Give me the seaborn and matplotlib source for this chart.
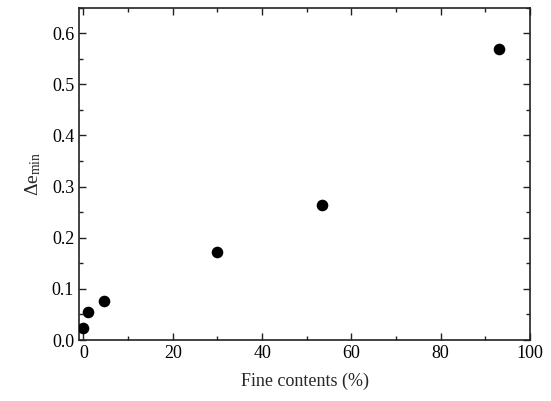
import matplotlib
matplotlib.use("Agg")
import matplotlib.pyplot as plt
import seaborn as sns
import pandas as pd
from matplotlib.ticker import MultipleLocator

fine_contents = [0.0, 1.0, 4.5, 30.0, 53.5, 93.0]
delta_emin = [0.023, 0.055, 0.076, 0.172, 0.265, 0.570]

sns.set_theme(style="ticks")
plt.rcParams['font.family'] = ['Liberation Serif', 'DejaVu Serif']
plt.rcParams['mathtext.fontset'] = 'custom'
plt.rcParams['mathtext.rm'] = 'Liberation Serif'
plt.rcParams['mathtext.it'] = 'Liberation Serif'

df = pd.DataFrame({"x": fine_contents, "y": delta_emin})

fig = plt.figure(figsize=(5.51, 4.01), dpi=100)
ax = fig.add_axes([0.1434, 0.152, 0.8186, 0.829])
sns.scatterplot(data=df, x="x", y="y", ax=ax, color="black", s=70, edgecolor="black", linewidth=0, zorder=3)

ax.set_xlim(-1, 100)
ax.set_ylim(0, 0.65)
ax.xaxis.set_major_locator(MultipleLocator(20))
ax.xaxis.set_minor_locator(MultipleLocator(10))
ax.yaxis.set_major_locator(MultipleLocator(0.1))
ax.yaxis.set_minor_locator(MultipleLocator(0.05))
ax.yaxis.set_major_formatter(matplotlib.ticker.FormatStrFormatter('%.1f'))
ax.tick_params(which='both', direction='in', top=True, right=True, width=1, colors='#222222', labelcolor='black', labelsize=13)
ax.tick_params(which='major', length=5)
ax.tick_params(which='minor', length=3)
for s in ax.spines.values():
    s.set_linewidth(1.2)
    s.set_color('#222222')

ax.set_xlabel("Fine contents (%)", fontsize=13, labelpad=8)
ax.set_ylabel(r"$\Delta\mathrm{e}_{\mathrm{min}}$", fontsize=14, labelpad=6)

fig.savefig("out.png", dpi=100)
